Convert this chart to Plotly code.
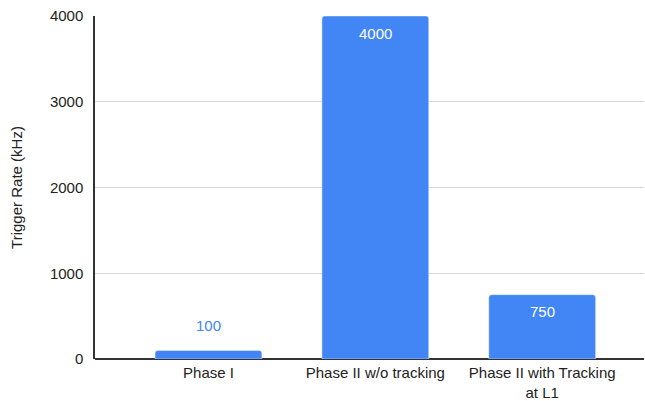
import plotly.graph_objects as go

categories = ["Phase I", "Phase II w/o tracking", "Phase II with Tracking<br>at L1"]
trigger_rate_khz = [100, 4000, 750]
y_ticks = [0, 1000, 2000, 3000, 4000]

BAR = "#4285F4"
FONT = "Liberation Sans, Arial, sans-serif"
FS = 15

fig = go.Figure()
fig.add_trace(go.Bar(
    x=list(range(len(categories))),
    y=trigger_rate_khz,
    marker=dict(color=BAR, cornerradius=3),
    hoverinfo="skip",
))

for i, v in enumerate(trigger_rate_khz):
    inside = v >= 500
    fig.add_annotation(
        x=i, y=v, xref="x", yref="y",
        text=str(v), showarrow=False,
        yanchor="middle",
        yshift=-17 if inside else 25,
        font=dict(family=FONT, size=FS, color="white" if inside else BAR),
    )

fig.update_layout(
    width=645, height=401,
    margin=dict(l=95, r=1, t=16, b=42, autoexpand=False),
    paper_bgcolor="white", plot_bgcolor="white",
    bargap=0.36,
    showlegend=False,
    font=dict(family=FONT, size=FS, color="#222222"),
    xaxis=dict(
        tickmode="array",
        tickvals=list(range(len(categories))),
        ticktext=categories,
        range=[-0.68, 2.61],
        showgrid=False,
        showline=False,
        ticks="",
        automargin=False,
        ticklabelstandoff=3,
        tickfont=dict(size=FS, color="#222222"),
        fixedrange=True,
    ),
    yaxis=dict(
        range=[0, 4000],
        tickmode="array",
        tickvals=y_ticks,
        showgrid=True,
        gridcolor="#d6d6d6",
        gridwidth=1,
        zeroline=True,
        zerolinecolor="#333333",
        zerolinewidth=1.5,
        showline=True,
        linecolor="#333333",
        linewidth=1.5,
        ticks="",
        automargin=False,
        ticklabelstandoff=7,
        tickfont=dict(size=FS, color="#222222"),
        title=dict(text="Trigger Rate (kHz)", font=dict(size=FS, color="#222222"), standoff=24),
        fixedrange=True,
    ),
)

fig.write_html("out.html")
